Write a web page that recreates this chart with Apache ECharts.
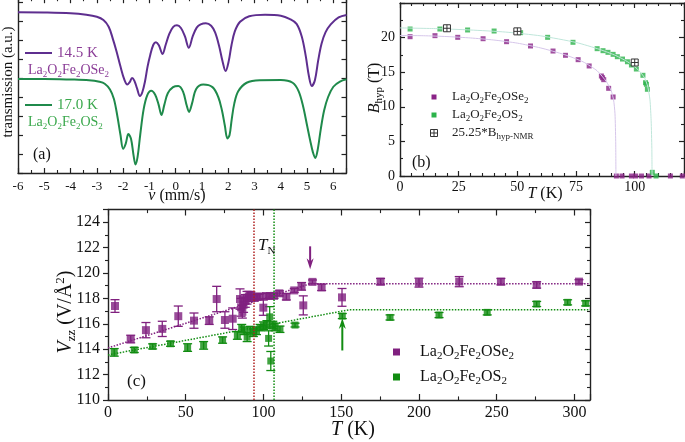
<!DOCTYPE html>
<html><head><meta charset="utf-8">
<script src="https://cdn.jsdelivr.net/npm/echarts@6/dist/echarts.min.js"></script>
<style>html,body{margin:0;padding:0;background:#fff}#c{width:685px;height:442px}</style>
</head><body><div id="c"></div>
<script>
// ---------- Panel (a): Mössbauer spectra (velocity mm/s, transmission a.u.) ----------
const mossSe = [[-6.0,8.46],[-5.0,8.45],[-4.0,8.41],[-3.4,8.33],[-3.0,8.22],[-2.75,8.05],[-2.55,7.7],[-2.4,7.1],[-2.25,6.4],[-2.1,5.6],[-1.95,4.9],[-1.84,4.66],[-1.75,4.78],[-1.66,5.0],[-1.57,4.85],[-1.47,4.45],[-1.36,4.05],[-1.27,4.25],[-1.17,4.8],[-1.07,5.6],[-0.97,6.2],[-0.85,6.75],[-0.75,6.88],[-0.64,6.72],[-0.5,6.26],[-0.38,6.75],[-0.25,7.3],[-0.1,7.68],[0.05,7.77],[0.2,7.63],[0.35,7.2],[0.5,6.59],[0.65,7.2],[0.8,7.65],[0.95,7.82],[1.15,7.88],[1.35,7.75],[1.5,7.4],[1.65,6.7],[1.78,5.9],[1.9,5.37],[2.02,5.9],[2.12,6.7],[2.25,7.45],[2.45,7.96],[2.8,8.25],[3.4,8.33],[4.0,8.28],[4.35,8.1],[4.6,7.85],[4.8,7.17],[4.95,6.15],[5.07,5.1],[5.18,4.58],[5.3,4.9],[5.42,5.9],[5.55,6.8],[5.7,7.4],[5.9,7.82],[6.2,8.19],[6.5,8.32]];
const mossS = [[-6.0,4.95],[-5.0,4.95],[-4.0,4.92],[-3.3,4.88],[-2.9,4.8],[-2.7,4.7],[-2.5,4.4],[-2.35,3.9],[-2.22,3.0],[-2.1,2.0],[-2.0,1.28],[-1.9,1.55],[-1.8,2.05],[-1.7,1.8],[-1.6,0.9],[-1.53,0.45],[-1.45,0.85],[-1.35,2.0],[-1.22,3.35],[-1.08,4.1],[-0.93,4.33],[-0.78,4.12],[-0.65,3.6],[-0.54,3.05],[-0.43,3.6],[-0.3,4.2],[-0.1,4.52],[0.1,4.58],[0.28,4.28],[0.42,3.55],[0.51,3.21],[0.62,3.65],[0.78,4.42],[1.05,4.66],[1.4,4.52],[1.62,4.0],[1.76,3.3],[1.87,2.5],[1.97,1.82],[2.05,2.0],[2.13,2.8],[2.23,3.65],[2.38,4.3],[2.7,4.75],[3.2,4.88],[4.0,4.89],[4.45,4.75],[4.68,4.3],[4.85,3.5],[5.0,2.5],[5.12,1.7],[5.22,1.1],[5.31,0.79],[5.4,1.2],[5.52,2.3],[5.65,3.3],[5.8,4.0],[6.0,4.54],[6.25,4.81],[6.5,4.93]];

// ---------- Panel (b): hyperfine field B_hyp (T) vs T (K) ----------
const bhypSe = [[4.3,20.13],[14.9,20.28],[24.6,20.04],[35.4,19.84],[45.4,19.41],[55.6,18.79],[65.2,18.06],[70.5,17.44],[75.9,16.81],[80.6,15.9],[85.8,14.45],[86.3,14.2],[86.8,13.92],[88.9,12.67],[90.8,11.42],[92.2,0],[94.6,0],[98.6,0],[100.4,0],[102.9,0],[106.1,0],[115.2,0],[120.3,0]];
const bhypS = [[4.3,21.24],[17.0,21.24],[28.8,21.1],[40.1,20.95],[51.4,20.71],[62.9,20.04],[73.7,19.32],[84.0,18.4],[86.5,18.11],[88.6,17.87],[90.8,17.58],[92.6,17.24],[94.8,16.9],[96.9,16.51],[98.6,16.04],[100.7,15.46],[103.5,14.55],[104.6,13.48],[105.0,13.25],[105.4,12.53],[107.5,0.53],[109.1,0]];
const bhypNMR = [[20,21.35],[50,20.9],[100,16.4]];
const bfitSe = [[0,20.3],[10,20.27],[20,20.15],[30,19.95],[40,19.65],[50,19.2],[60,18.5],[70,17.55],[78,16.5],[84,15.2],[88,13.6],[90,12.3],[91,11.0],[91.6,9],[91.9,5],[92.0,0]];
const bfitS = [[0,21.4],[15,21.3],[30,21.1],[45,20.8],[60,20.25],[75,19.3],[85,18.3],[92,17.4],[97,16.5],[101,15.5],[104,14.3],[105.5,13.0],[106.5,11],[107,8],[107.3,4],[107.4,0]];

// ---------- Panel (c): V_zz (V/Å^2) vs T (K), [T, V, error] ----------
const vzzSe = [[4.5,117.4,0.5],[14.6,114.8,0.3],[24.4,115.5,0.6],[34.9,115.6,0.6],[45.2,116.6,0.8],[55.3,116.25,0.6],[65.1,116.25,0.3],[69.9,117.95,1.0],[75.2,116.3,0.65],[80.2,116.4,0.85],[84.9,117.95,0.8],[85.6,117.3,0.7],[86.4,116.95,0.5],[87.2,117.5,0.6],[88.3,117.8,0.5],[89.4,118.05,0.5],[90.6,118.15,0.4],[92.0,118.2,0.3],[94.2,118.05,0.25],[96.0,118.13,0.2],[97.5,118.15,0.2],[99.9,117.27,0.6],[101.6,118.19,0.2],[104.2,118.19,0.2],[106.8,118.2,0.2],[110.2,118.4,0.2],[114.7,118.13,0.25],[119.8,118.63,0.15],[124.5,118.95,0.3],[125.6,117.45,0.75],[131.5,119.3,0.15],[137.4,118.87,0.25],[150.5,118.08,0.7],[175.3,119.32,0.25],[200.0,119.24,0.35],[225.9,119.32,0.4],[252.7,119.32,0.25],[275.7,119.06,0.25],[302.9,119.32,0.15]];
const vzzS = [[4.0,113.75,0.3],[16.9,113.94,0.2],[28.7,114.22,0.2],[40.2,114.43,0.2],[51.2,114.13,0.3],[61.5,114.3,0.3],[73.7,114.72,0.25],[83.2,115.08,0.3],[86.0,115.65,0.3],[87.6,115.45,0.3],[89.5,114.95,0.35],[91.5,115.5,0.3],[93.5,115.3,0.3],[95.5,115.45,0.3],[97.8,115.7,0.25],[100.0,115.85,0.3],[102.2,115.95,0.3],[103.3,114.85,0.6],[104.0,116.55,0.8],[104.7,113.07,0.75],[106.0,115.9,0.3],[107.5,115.75,0.3],[110.6,115.57,0.25],[120.3,115.9,0.15],[150.7,116.61,0.2],[181.4,116.5,0.2],[212.9,116.69,0.2],[243.9,116.9,0.2],[275.7,117.56,0.2],[295.6,117.69,0.2],[307.2,117.61,0.2]];
const vzzFitSe = [[0,114.1],[130,119.15],[310,119.15]];
const vzzFitS = [[0,113.55],[155,117.1],[310,117.1]];
const tnSe = 93.9, tnS = 106.8;
const arrowSe = [[130, 122.1, 120.3]];   // [T, tail V, tip V]
const arrowS = [[150.7, 113.9, 116.45]];

// ---------- styling ----------
const FONT = 'Liberation Serif';
const PUR_A = '#5e2e8f', GRN_A = '#1f8a4b', PUR_AT = '#8b3d97', GRN_AT = '#3aa84c';
const PUR_B = '#8a2387', GRN_B = '#2cb34a', PUR_BF = '#d6c6ea', GRN_BF = '#bfe6da';
const PUR_C = '#80207f', GRN_C = '#118c11', RED_C = '#b02020';
const AX = '#222';

function axX(grid, min, max, interval, minorSplit, pos, labels, fs, margin, tl) {
  return {type:'value', gridIndex:grid, position:pos, min, max, interval,
    axisLine:{show:true, onZero:false, lineStyle:{color:AX, width:1.4}},
    axisTick:{show:true, inside:true, length:tl, lineStyle:{color:AX, width:1.2}},
    minorTick:{show:minorSplit>0, splitNumber:minorSplit||1, length:tl*0.6, lineStyle:{color:AX, width:1.1}},
    axisLabel:{show:labels, showMaxLabel:false, showMinLabel:true, fontSize:fs||12, fontFamily:FONT, color:'#111', margin:margin||6, hideOverlap:false},
    splitLine:{show:false}, minorSplitLine:{show:false}};
}
function axY(grid, min, max, interval, minorSplit, pos, labels, fs, margin, tl, inside) {
  const a = axX(grid, min, max, interval, minorSplit, pos, labels, fs, margin, tl);
  a.axisTick.inside = inside; 
  return a;
}
function rich(fs) {
  return {
    n:{fontSize:fs, lineHeight:fs+4, fontFamily:FONT},
    i:{fontSize:fs, lineHeight:fs+4, fontFamily:FONT, fontStyle:'italic'},
    s:{fontSize:Math.round(fs*0.66), lineHeight:Math.round(fs*0.66), fontFamily:FONT, verticalAlign:'bottom'},
    u:{fontSize:Math.round(fs*0.66), lineHeight:Math.round(fs*0.66), fontFamily:FONT, verticalAlign:'top'}
  };
}
function formula(el) { return '{n|La}{s|2}{n|O}{s|2}{n|Fe}{s|2}{n|O'+el+'}{s|2}'; }
function txt(x, y, text, fs, color, align, rot) {
  return {type:'text', x, y, rotation: rot||0, z:100,
    style:{text, fill:color||'#111', rich:rich(fs), fontSize:fs, fontFamily:FONT,
      align:align||'left', verticalAlign:'middle', textAlign:align||'left', textVerticalAlign:'middle'}};
}
function errRender(color, cw) {
  return function(params, api) {
    const x = api.value(0), y = api.value(1), e = api.value(2);
    const t = api.coord([x, y+e]), b = api.coord([x, y-e]);
    const st = {stroke:color, lineWidth:1.3};
    return {type:'group', children:[
      {type:'line', shape:{x1:t[0],y1:t[1],x2:b[0],y2:b[1]}, style:st},
      {type:'line', shape:{x1:t[0]-cw,y1:t[1],x2:t[0]+cw,y2:t[1]}, style:st},
      {type:'line', shape:{x1:b[0]-cw,y1:b[1],x2:b[0]+cw,y2:b[1]}, style:st}]};
  };
}
function arrowRender(color) {
  return function(params, api) {
    const x = api.value(0);
    const tail = api.coord([x, api.value(1)]), tip = api.coord([x, api.value(2)]);
    const d = tip[1] > tail[1] ? 1 : -1;
    return {type:'group', children:[
      {type:'line', shape:{x1:tail[0],y1:tail[1],x2:tip[0],y2:tip[1]-d*6}, style:{stroke:color, lineWidth:2}},
      {type:'polygon', shape:{points:[[tip[0],tip[1]],[tip[0]-3.5,tip[1]-d*11],[tip[0],tip[1]-d*7.5],[tip[0]+3.5,tip[1]-d*11]]}, style:{fill:color}}]};
  };
}
function nmrRender(params, api) {
  const p = api.coord([api.value(0), api.value(1)]), s = 7, st = {stroke:'#333', lineWidth:1, fill:null};
  return {type:'group', children:[
    {type:'rect', shape:{x:p[0]-s/2,y:p[1]-s/2,width:s,height:s}, style:{stroke:'#333', lineWidth:1, fill:'#fff'}},
    {type:'line', shape:{x1:p[0]-s/2,y1:p[1],x2:p[0]+s/2,y2:p[1]}, style:st},
    {type:'line', shape:{x1:p[0],y1:p[1]-s/2,x2:p[0],y2:p[1]+s/2}, style:st}]};
}

const option = {
  animation:false, backgroundColor:'#fff',
  textStyle:{fontFamily:FONT},
  grid:[
    {left:18, top:173-9.2*19, width:328.5, height:9.2*19, outerBoundsMode:'none', containLabel:false},
    {left:400, top:3, width:284, height:173, outerBoundsMode:'none', containLabel:false},
    {left:108, top:209.5, width:482, height:190.5, outerBoundsMode:'none', containLabel:false}
  ],
  xAxis:[
    axX(0,-6,6.5,1,2,'bottom',true,13,7,5),
    axX(0,-6,6.5,1,2,'top',false,13,7,5),
    axX(1,0,121,25,5,'bottom',true,14,4,5),
    axX(1,0,121,25,5,'top',false,14,4,5),
    axX(2,0,310,50,2,'bottom',true,16,5,6),
    axX(2,0,310,50,2,'top',false,16,5,6)
  ],
  yAxis:[
    axY(0,0,9.2,1,0,'left',false,13,5,5,true),
    axY(0,0,9.2,1,0,'right',false,13,5,5,true),
    axY(1,0,25,5,2,'left',true,14,5,5,true),
    axY(1,0,25,5,2,'right',false,14,5,5,true),
    axY(2,110,125,2,2,'left',true,16,8,5,false),
    axY(2,110,125,2,2,'right',false,16,8,5,true)
  ],
  series:[
    // panel a
    {type:'line', xAxisIndex:0, yAxisIndex:0, data:mossSe, showSymbol:false, smooth:0.35, lineStyle:{color:PUR_A, width:2}},
    {type:'line', xAxisIndex:0, yAxisIndex:0, data:mossS, showSymbol:false, smooth:0.35, lineStyle:{color:GRN_A, width:2}},
    // panel b
    {type:'line', xAxisIndex:2, yAxisIndex:2, data:bfitSe, showSymbol:false, smooth:0.2, lineStyle:{color:PUR_BF, width:1}},
    {type:'line', xAxisIndex:2, yAxisIndex:2, data:bfitS, showSymbol:false, smooth:0.2, lineStyle:{color:GRN_BF, width:1}},
    {type:'scatter', xAxisIndex:2, yAxisIndex:2, data:bhypSe, symbol:'rect', symbolSize:5, itemStyle:{color:PUR_B}},
    {type:'scatter', xAxisIndex:2, yAxisIndex:2, data:bhypS, symbol:'rect', symbolSize:5, itemStyle:{color:GRN_B}},
    {type:'custom', xAxisIndex:2, yAxisIndex:2, data:bhypNMR, encode:{x:0,y:1}, renderItem:nmrRender, z:5},
    // panel c
    {type:'line', xAxisIndex:4, yAxisIndex:4, data:vzzFitSe, showSymbol:false, lineStyle:{color:PUR_C, width:1.5, type:'dotted'}},
    {type:'line', xAxisIndex:4, yAxisIndex:4, data:vzzFitS, showSymbol:false, lineStyle:{color:GRN_C, width:1.5, type:'dotted'}},
    {type:'line', xAxisIndex:4, yAxisIndex:4, data:[[tnSe,110],[tnSe,125]], showSymbol:false, lineStyle:{color:RED_C, width:1.5, type:'dotted'}},
    {type:'line', xAxisIndex:4, yAxisIndex:4, data:[[tnS,110],[tnS,125]], showSymbol:false, lineStyle:{color:GRN_C, width:1.5, type:'dotted'}},
    {type:'custom', xAxisIndex:4, yAxisIndex:4, data:vzzSe, encode:{x:0,y:1}, renderItem:errRender(PUR_C,4.5)},
    {type:'custom', xAxisIndex:4, yAxisIndex:4, data:vzzS, encode:{x:0,y:1}, renderItem:errRender(GRN_C,4.5)},
    {type:'scatter', xAxisIndex:4, yAxisIndex:4, data:vzzSe, symbol:'rect', symbolSize:8, itemStyle:{color:PUR_C}},
    {type:'scatter', xAxisIndex:4, yAxisIndex:4, data:vzzS, symbol:'rect', symbolSize:7, itemStyle:{color:GRN_C}},
    {type:'custom', xAxisIndex:4, yAxisIndex:4, data:arrowSe, encode:{x:0,y:1}, renderItem:arrowRender(PUR_C)},
    {type:'custom', xAxisIndex:4, yAxisIndex:4, data:arrowS, encode:{x:0,y:1}, renderItem:arrowRender(GRN_C)}
  ],
  graphic:[
    // panel a
    {type:'line', shape:{x1:25,y1:53,x2:52,y2:53}, style:{stroke:PUR_A, lineWidth:2}},
    txt(57,53,'{n|14.5 K}',15,PUR_AT),
    txt(28,70,formula('Se'),14,PUR_AT),
    {type:'line', shape:{x1:25,y1:105,x2:52,y2:105}, style:{stroke:GRN_A, lineWidth:2}},
    txt(57,105,'{n|17.0 K}',15,GRN_AT),
    txt(28,122,formula('S'),14,GRN_AT),
    txt(33,155,'{n|(a)}',16,'#111'),
    txt(8,82,'{n|transmission (a.u.)}',15,'#111','center',Math.PI/2),
    txt(177,196,'{i|ν} {n|(mm/s)}',16,'#111','center'),
    // panel b
    {type:'rect', shape:{x:431.5,y:94.5,width:5,height:5}, style:{fill:PUR_B}},
    txt(452,97,formula('Se'),13,'#222'),
    {type:'rect', shape:{x:431.5,y:112.5,width:5,height:5}, style:{fill:GRN_B}},
    txt(452,115,formula('S'),13,'#222'),
    {type:'rect', shape:{x:430.5,y:129.5,width:7,height:7}, style:{fill:'#fff', stroke:'#333', lineWidth:1}},
    {type:'line', shape:{x1:430.5,y1:133,x2:437.5,y2:133}, style:{stroke:'#333', lineWidth:1}},
    {type:'line', shape:{x1:434,y1:129.5,x2:434,y2:136.5}, style:{stroke:'#333', lineWidth:1}},
    txt(452,133,'{n|25.25*B}{s|hyp-NMR}',13,'#222'),
    txt(412,163,'{n|(b)}',16,'#111'),
    txt(375,88,'{i|B}{s|hyp} {n|(T)}',16,'#111','center',Math.PI/2),
    txt(545,194,'{i|T} {n|(K)}',16,'#111','center'),
    // panel c
    txt(127,382,'{n|(c)}',17,'#111'),
    txt(258,246,'{i|T}{s|N}',17,'#111'),
    {type:'rect', shape:{x:393,y:348.5,width:7,height:7}, style:{fill:PUR_C}},
    txt(420,352,formula('Se'),16,'#111'),
    {type:'rect', shape:{x:393,y:373.5,width:7,height:7}, style:{fill:GRN_C}},
    txt(420,377,formula('S'),16,'#111'),
    txt(66,312,'{i|V}{s|zz} {n|(V/Å}{u|2}{n|)}',20,'#111','center',Math.PI/2),
    txt(353,430,'{i|T} {n|(K)}',20,'#111','center')
  ]
};
const chart = echarts.init(document.getElementById('c'));
chart.setOption(option);
</script></body></html>
